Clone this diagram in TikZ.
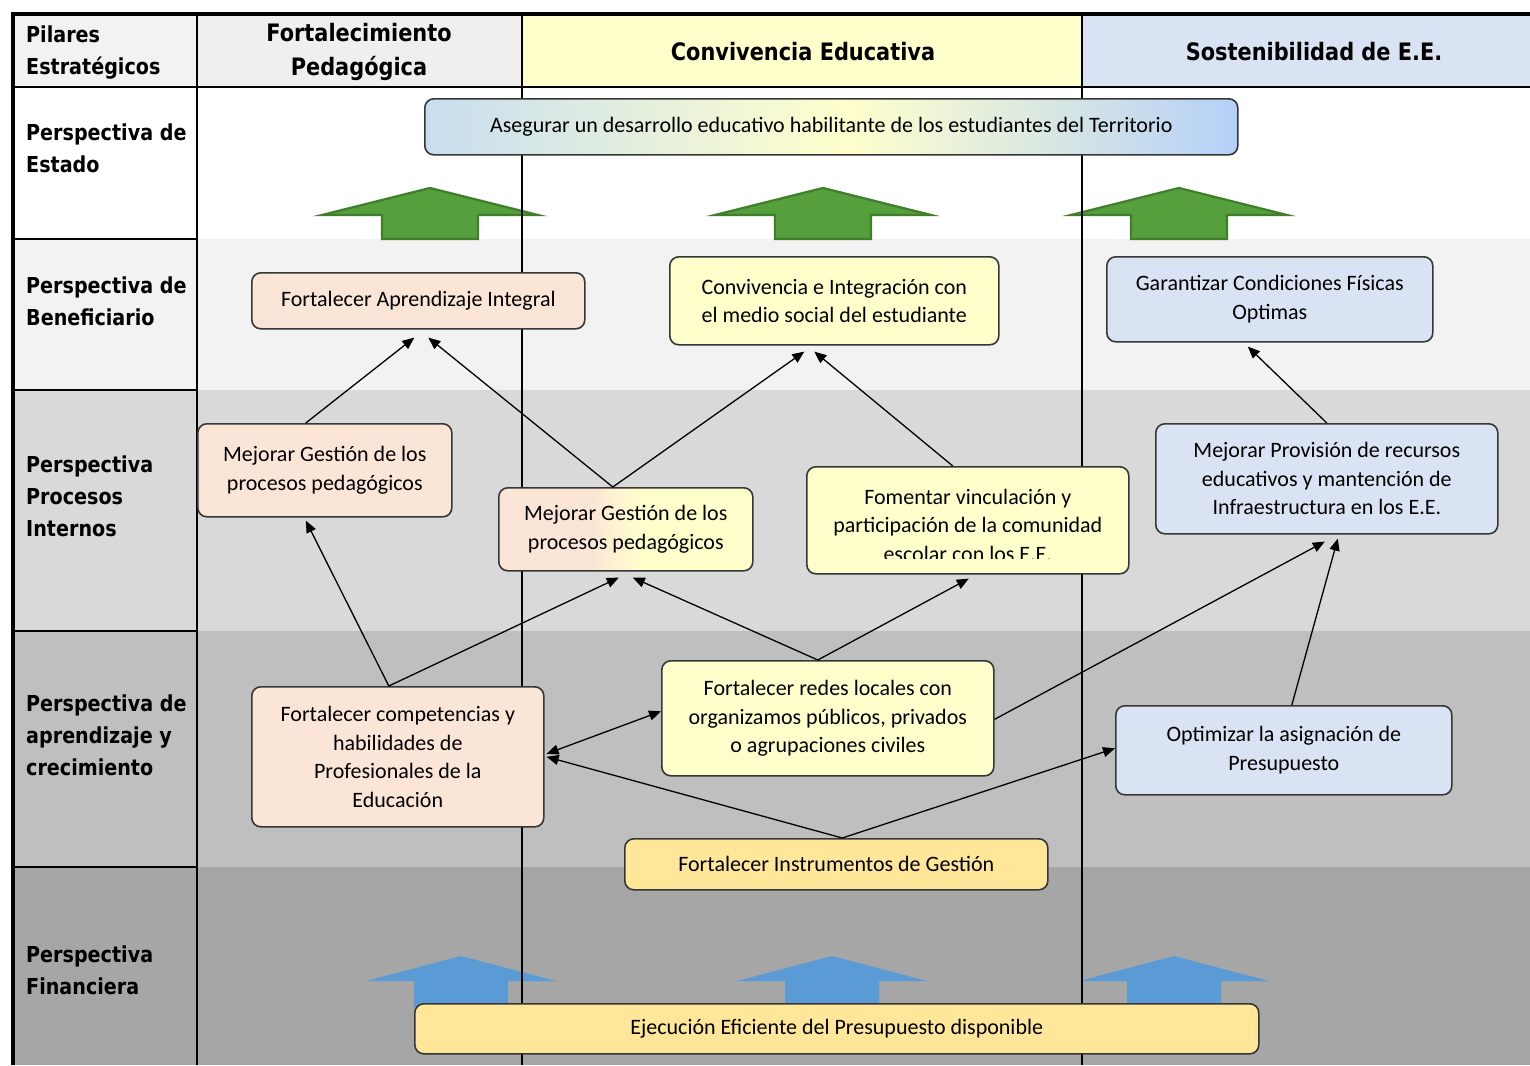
\documentclass[tikz,border=0pt]{standalone}
\usepackage{fontspec}
\setmainfont{Carlito}
\newfontfamily\hdrfont{DejaVu Sans}[FakeStretch=0.87]
\usetikzlibrary{arrows.meta,calc}

% palette
\definecolor{peach}{HTML}{FBE5D6}
\definecolor{paleyellow}{HTML}{FFFFCC}
\definecolor{paleblue}{HTML}{DAE3F3}
\definecolor{gold}{HTML}{FFE699}
\definecolor{hdrgray}{HTML}{EFEFEF}
\definecolor{bandA}{HTML}{F2F2F2}
\definecolor{bandB}{HTML}{D9D9D9}
\definecolor{bandC}{HTML}{BFBFBF}
\definecolor{bandD}{HTML}{A6A6A6}
\definecolor{boxline}{HTML}{363636}
\definecolor{leafgreen}{HTML}{55A03C}
\definecolor{leafedge}{HTML}{3F7F2C}
\definecolor{steelblue}{HTML}{5B9BD5}
\definecolor{skyL}{HTML}{C8DEF0}
\definecolor{skyR}{HTML}{B4D0F8}

% horizontal fills (25bp..75bp spans the filled shape)
\pgfdeclarehorizontalshading{visionfill}{100bp}{color(0bp)=(skyL); color(25bp)=(skyL); color(51bp)=(paleyellow); color(75bp)=(skyR); color(100bp)=(skyR)}
\pgfdeclarehorizontalshading{peachyellow}{100bp}{color(0bp)=(peach); color(25bp)=(peach); color(43bp)=(peach); color(53bp)=(paleyellow); color(75bp)=(paleyellow); color(100bp)=(paleyellow)}

\tikzset{
  goalbox/.style={rounded corners=9pt, draw=boxline, line width=1.6pt,
    align=center, inner sep=0pt, anchor=north west,
    font=\fontsize{22}{28.5}\selectfont},
  boxtext/.style={align=center, inner sep=0pt, font=\fontsize{22}{28.5}\selectfont},
  rowlabel/.style={anchor=west, align=left, inner sep=0pt,
    font=\hdrfont\bfseries\fontsize{22}{32}\selectfont},
  colhead/.style={align=center, inner sep=0pt,
    font=\hdrfont\bfseries\fontsize{24}{34}\selectfont},
  rule/.style={line width=1.3pt, black},
  link/.style={-{Triangle[length=12pt,width=10pt]}, line width=1.3pt, black},
  twoway/.style={{Triangle[length=12pt,width=10pt]}-{Triangle[length=12pt,width=10pt]}, line width=1.3pt, black},
  greenup/.pic={\path[pic actions] (0,0) -- (108,27) -- (48,27) -- (48,51)
      -- (-48,51) -- (-48,27) -- (-108,27) -- cycle;},
  blueup/.pic={\path[pic actions] (0,0) -- (95,25) -- (47,25) -- (47,52)
      -- (-47,52) -- (-47,25) -- (-95,25) -- cycle;},
}

\begin{document}
\begin{tikzpicture}[x=1pt,y=-1pt]
\useasboundingbox (0,0) rectangle (1530,1065);
\fill[white] (0,0) rectangle (1530,1065);

% perspective bands
\fill[bandA] (11,239) rectangle (1530,390);
\fill[bandB] (11,390) rectangle (1530,631);
\fill[bandC] (11,631) rectangle (1530,867);
\fill[bandD] (11,867) rectangle (1530,1065);

% header cells
\fill[bandA] (11,13) rectangle (197,87);
\fill[hdrgray] (197,13) rectangle (522,87);
\fill[paleyellow] (522,13) rectangle (1082,87);
\fill[paleblue] (1082,13) rectangle (1530,87);

% upward block arrows
\pic[fill=leafgreen, draw=leafedge, line width=2.2pt, line join=miter] at (430,188) {greenup};
\pic[fill=leafgreen, draw=leafedge, line width=2.2pt, line join=miter] at (823,188) {greenup};
\pic[fill=leafgreen, draw=leafedge, line width=2.2pt, line join=miter] at (1179,188) {greenup};
\pic[fill=steelblue] at (461,956) {blueup};
\pic[fill=steelblue] at (832,956) {blueup};
\pic[fill=steelblue] at (1174,956) {blueup};

% table rules
\draw[rule] (197,13) -- (197,1065);
\draw[rule] (522,13) -- (522,1065);
\draw[rule] (1082,13) -- (1082,1065);
\draw[rule] (11,87) -- (1530,87);
\draw[rule] (11,239) -- (197,239);
\draw[rule] (11,390) -- (197,390);
\draw[rule] (11,631) -- (197,631);
\draw[rule] (11,867) -- (197,867);
\draw[line width=4pt, black] (12.5,1065) -- (12.5,14) -- (1530,14);

% header texts
\node[rowlabel] (pilares) at (26,53) {Pilares\\Estratégicos};
\node[colhead] (hpeda) at (359,52) {Fortalecimiento\\Pedagógica};
\node[colhead] (hconv) at (803,52) {Convivencia Educativa};
\node[colhead] (hsost) at (1314,52) {Sostenibilidad de E.E.};

% row labels
\node[rowlabel] (lestado) at (26,148) {Perspectiva de\\Estado};
\node[rowlabel] (lbenef) at (26,301) {Perspectiva de\\Beneficiario};
\node[rowlabel] (lproc) at (26,496) {Perspectiva\\Procesos\\Internos};
\node[rowlabel] (laprend) at (26,735) {Perspectiva de\\aprendizaje y\\crecimiento};
\node[rowlabel] (lfin) at (26,970) {Perspectiva\\Financiera};

% goals
\node[goalbox, shade, shading=visionfill, minimum width=813, minimum height=56] (vision) at (424,98)
  {Asegurar un desarrollo educativo habilitante de los estudiantes del Territorio};

\node[goalbox, fill=peach, minimum width=333, minimum height=56] (fai) at (251,272)
  {Fortalecer Aprendizaje Integral};
\node[goalbox, fill=paleyellow, minimum width=329, minimum height=88] (conv) at (669,256)
  {Convivencia e Integración con\\el medio social del estudiante};
\node[goalbox, fill=paleblue, minimum width=326, minimum height=85] (gar) at (1106,256)
  {Garantizar Condiciones Físicas\\Optimas};

\node[goalbox, fill=peach, minimum width=254, minimum height=93] (mg1) at (197,423)
  {Mejorar Gestión de los\\procesos pedagógicos};
\node[goalbox, shade, shading=peachyellow, minimum width=254, minimum height=83] (mg2) at (498,487)
  {Mejorar Gestión de los\\procesos pedagógicos};
\node[goalbox, fill=paleyellow, minimum width=322, minimum height=107] (fom) at (806,466) {};
\begin{scope}
  \clip ($(fom.north west)+(2,2)$) rectangle ($(fom.south east)+(-2,-16)$);
  \node[boxtext] (fomtext) at ($(fom.center)+(0,5)$)
    {Fomentar vinculación y\\participación de la comunidad\\escolar con los E.E.};
\end{scope}
\node[goalbox, fill=paleblue, minimum width=342, minimum height=110] (prov) at (1155,423)
  {Mejorar Provisión de recursos\\educativos y mantención de\\Infraestructura en los E.E.};

\node[goalbox, fill=peach, minimum width=292, minimum height=140] (comp) at (251,686)
  {Fortalecer competencias y\\habilidades de\\Profesionales de la\\Educación};
\node[goalbox, fill=paleyellow, minimum width=332, minimum height=115] (redes) at (661,660)
  {Fortalecer redes locales con\\organizamos públicos, privados\\o agrupaciones civiles};
\node[goalbox, fill=paleblue, minimum width=336, minimum height=89] (opt) at (1115,705)
  {Optimizar la asignación de\\Presupuesto};
\node[goalbox, fill=gold, minimum width=423, minimum height=51] (instr) at (624,838)
  {Fortalecer Instrumentos de Gestión};

\node[goalbox, fill=gold, minimum width=844, minimum height=50] (ejec) at (414,1003)
  {Ejecución Eficiente del Presupuesto disponible};

% cause-effect links
\draw[link] ($(mg1.north)+(-19,0)$) -- ($(fai.south)+(-4,8)$);
\draw[link] ($(mg2.north)+(-13,0)$) -- ($(fai.south)+(10,8)$);
\draw[link] ($(mg2.north)+(-13,0)$) -- ($(conv.south)+(-30,6)$);
\draw[link] ($(fom.north)+(-15,0)$) -- ($(conv.south)+(-20,6)$);
\draw[link] (prov.north) -- ($(gar.south)+(-22,4)$);
\draw[link] ($(comp.north)+(-9,0)$) -- ($(mg1.south)+(-19,3)$);
\draw[link] ($(comp.north)+(-9,0)$) -- ($(mg2.south)+(-7,6)$);
\draw[link] ($(redes.north)+(-10,0)$) -- ($(mg2.south)+(7,6)$);
\draw[link] ($(redes.north)+(-10,0)$) -- ($(fom.south)+(1,4)$);
\draw[link] ($(redes.east)+(0,1)$) -- ($(prov.south)+(-2,7)$);
\draw[link] ($(opt.north)+(8,0)$) -- ($(prov.south)+(11,4)$);
\draw[twoway] ($(comp.east)+(2,-3)$) -- ($(redes.west)+(0,-7)$);
\draw[link] ($(instr.north)+(6,0)$) -- ($(comp.east)+(2,0)$);
\draw[link] ($(instr.north)+(6,0)$) -- ($(opt.west)+(0,-2)$);
\end{tikzpicture}
\end{document}
